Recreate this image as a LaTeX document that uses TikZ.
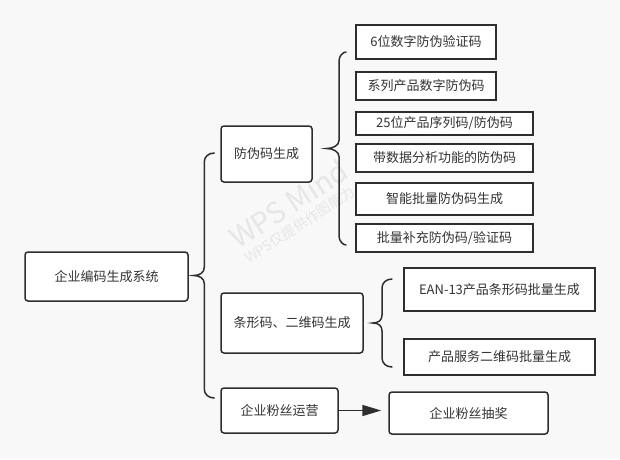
\documentclass[tikz,border=0pt]{standalone}
\usepackage{fontspec}
\setmainfont{Noto Sans CJK SC}
\usetikzlibrary{calc,arrows.meta}

\definecolor{bg}{HTML}{F8F8F8}
\definecolor{ink}{HTML}{333333}
\definecolor{edge}{HTML}{2E2E2E}
\definecolor{wm}{HTML}{E6E6E6}

% Curly brace: #1 tip (only its x is used), #2 upper end, #3 lower end, #4 hook length
\newcommand\curlybrace[4]{%
  \path ($(#2)+(-#4,0)$) coordinate (cb-top)
        ($(#3)+(-#4,0)$) coordinate (cb-bot)
        ($(#2)!0.5!(#3)$) coordinate (cb-half);
  \path (#1 |- cb-half) coordinate (cb-tip)
        (cb-top |- cb-half) coordinate (cb-mid);
  \draw[brace] (#2) .. controls ($(cb-top)+(4,0)$) and ($(cb-top)+(0,4)$) .. ($(cb-top)+(0,9)$)
    -- ($(cb-mid)+(0,-8)$) .. controls ($(cb-mid)+(0,-3)$) and ($(cb-tip)+(6,0)$) .. (cb-tip)
    .. controls ($(cb-tip)+(6,0)$) and ($(cb-mid)+(0,3)$) .. ($(cb-mid)+(0,8)$)
    -- ($(cb-bot)+(0,-9)$) .. controls ($(cb-bot)+(0,-4)$) and ($(cb-bot)+(4,0)$) .. (#3);
}

\begin{document}
\begin{tikzpicture}[x=1pt,y=-1pt,
  txt/.style={font=\fontsize{13}{15}\selectfont, text=ink, inner sep=0pt, align=center},
  topic/.style={txt, draw=edge, line width=1.5pt, fill=white, rounded corners=3pt},
  leaf/.style={txt, draw=edge, line width=2pt, fill=white},
  brace/.style={draw=edge, line width=1.5pt, line cap=round},
  wmtext/.style={text=wm, rotate=33, anchor=base west, inner sep=0pt},
  ]
\fill[bg] (0,0) rectangle (620,459);
\useasboundingbox (0,0) rectangle (620,459);

% watermark
\node[wmtext, font=\fontsize{29}{31}\selectfont] (wm1) at (238,250) {WPS Mind};
\node[wmtext, font=\fontsize{14}{16}\selectfont] (wm2) at (249,264) {WPS仅提供作图能力};

% root and main topics
\node[topic, minimum width=163pt, minimum height=49pt] (root) at (106.5,276.5) {企业编码生成系统};
\node[topic, minimum width=91pt,  minimum height=56pt] (anti) at (266.5,154) {防伪码生成};
\node[topic, minimum width=142pt, minimum height=60pt] (bar)  at (292,323) {条形码、二维码生成};
\node[topic, minimum width=117pt, minimum height=45pt] (fans) at (279.5,410.5) {企业粉丝运营};
\node[topic, minimum width=159pt, minimum height=42pt] (lottery) at (468.5,413) {企业粉丝抽奖};

% anti-counterfeit code items
\node[leaf, minimum width=140pt, minimum height=34pt] (c1) at (426,42) {6位数字防伪验证码};
\node[leaf, minimum width=140pt, minimum height=28pt] (c2) at (426,86) {系列产品数字防伪码};
\node[leaf, minimum width=177pt, minimum height=23pt] (c3) at (444.5,123.5) {25位产品序列码/防伪码};
\node[leaf, minimum width=177pt, minimum height=28pt] (c4) at (444.5,158) {带数据分析功能的防伪码};
\node[leaf, minimum width=177pt, minimum height=32pt] (c5) at (444.5,199) {智能批量防伪码生成};
\node[leaf, minimum width=177pt, minimum height=28pt] (c6) at (444.5,238) {批量补充防伪码/验证码};

% barcode / QR items
\node[leaf, minimum width=191pt, minimum height=43pt] (ean) at (499.5,289.5) {EAN-13产品条形码批量生成};
\node[leaf, minimum width=191pt, minimum height=36pt] (qr)  at (499.5,357) {产品服务二维码批量生成};

% brace end points
\coordinate (m-tip) at ($(root.east)+(5,0)$);
\coordinate (m-a)   at ($(anti.west)+(-6,-1)$);
\coordinate (m-b)   at ($(fans.west)+(-6,-12.5)$);
\coordinate (a-tip) at ($(anti.east)+(14,0)$);
\coordinate (a-a)   at ($(c1.west)+(-9,10)$);
\coordinate (a-b)   at ($(c6.west)+(-9,7)$);
\coordinate (b-tip) at ($(bar.east)+(9,0)$);
\coordinate (b-a)   at ($(ean.west)+(-11,-10.5)$);
\coordinate (b-b)   at ($(qr.west)+(-11,10)$);

\curlybrace{m-tip}{m-a}{m-b}{10}
\curlybrace{a-tip}{a-a}{a-b}{7}
\curlybrace{b-tip}{b-a}{b-b}{10}

% arrow to the lottery
\draw[draw=edge, line width=1.6pt, -{Triangle[length=19pt,width=11pt]}, shorten >=7pt]
  (fans.east) -- (fans.east -| lottery.west);
\end{tikzpicture}
\end{document}
